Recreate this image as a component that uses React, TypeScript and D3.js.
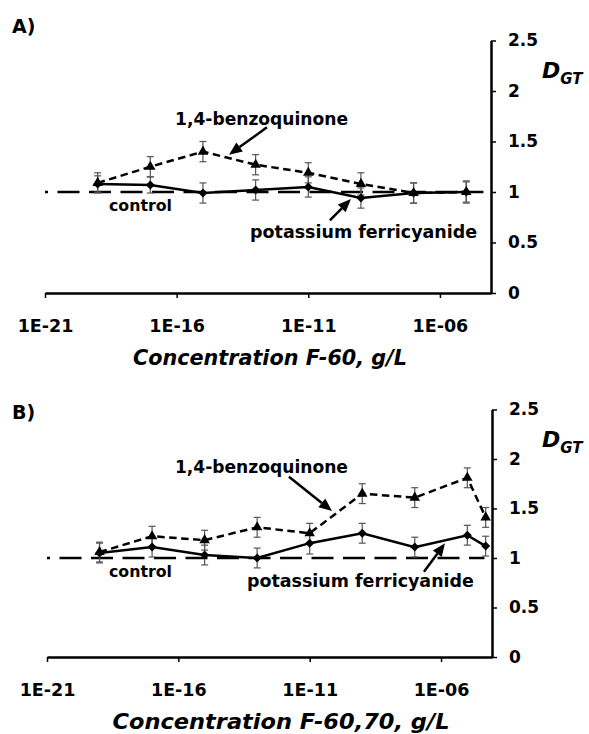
import React, { useEffect, useRef, ReactElement } from 'react'
import * as d3 from 'd3'

// values: concentration (g/L) and D_GT
const concA = [1e-19, 1e-17, 1e-15, 1e-13, 1e-11, 1e-9, 1e-7, 1e-5]
const benzoA = [1.09, 1.25, 1.4, 1.27, 1.19, 1.08, 0.99, 1.0]
const benzoErrA = [0.1, 0.1, 0.1, 0.1, 0.1, 0.11, 0.1, 0.11]
const ferriA = [1.08, 1.07, 0.99, 1.02, 1.05, 0.94, 0.99, 1.0]
const ferriErrA = [0.08, 0.08, 0.1, 0.1, 0.1, 0.1, 0.1, 0.1]

const concB = [1e-19, 1e-17, 1e-15, 1e-13, 1e-11, 1e-9, 1e-7, 1e-5, 5e-5]
const benzoB = [1.06, 1.22, 1.18, 1.31, 1.25, 1.65, 1.61, 1.81, 1.41]
const benzoErrB = [0.1, 0.1, 0.1, 0.1, 0.1, 0.1, 0.1, 0.1, 0.1]
const ferriB = [1.05, 1.11, 1.03, 1.0, 1.15, 1.25, 1.11, 1.23, 1.12]
const ferriErrB = [0.1, 0.1, 0.1, 0.1, 0.11, 0.1, 0.1, 0.1, 0.1]

const xTickValues = [1e-21, 1e-16, 1e-11, 1e-6]
const xTickLabels = ['1E-21', '1E-16', '1E-11', '1E-06']
const yTickValues = [0, 0.5, 1, 1.5, 2, 2.5]
const xDomain = [1e-21, Math.pow(10, -4.06)]
const yDomain = [0, 2.5]
const controlLevel = 1
const controlSpan = [1e-21, 4.5e-5]

const FONT = "'DejaVu Sans', sans-serif"

type Pt = [number, number] // [log10 concentration, D_GT]

interface IPanel {
  letter: string
  letterY: number
  title: string
  titleWidth: number
  titleX: number
  conc: number[]
  benzo: number[]
  benzoErr: number[]
  ferri: number[]
  ferriErr: number[]
  xRange: [number, number]
  yRange: [number, number]
  benzoText: Pt
  benzoArrow: [Pt, Pt]
  controlText: Pt
  ferriText: Pt
  ferriArrow: [Pt, Pt]
}

const panels: IPanel[] = [
  {
    letter: 'A)',
    letterY: 33,
    title: 'Concentration F-60, g/L',
    titleWidth: 274,
    titleX: 270,
    conc: concA,
    benzo: benzoA,
    benzoErr: benzoErrA,
    ferri: ferriA,
    ferriErr: ferriErrA,
    xRange: [45, 491],
    yRange: [293, 40.5],
    benzoText: [-16.06, 1.66],
    benzoArrow: [[-12.57, 1.64], [-14.01, 1.37]],
    controlText: [-18.57, 0.81],
    ferriText: [-13.21, 0.545],
    ferriArrow: [[-10.18, 0.72], [-9.38, 0.93]]
  },
  {
    letter: 'B)',
    letterY: 419,
    title: 'Concentration F-60,70, g/L',
    titleWidth: 337,
    titleX: 281,
    conc: concB,
    benzo: benzoB,
    benzoErr: benzoErrB,
    ferri: ferriB,
    ferriErr: ferriErrB,
    xRange: [47, 492],
    yRange: [657, 409.5],
    benzoText: [-16.13, 1.86],
    benzoArrow: [[-11.79, 1.82], [-10.15, 1.475]],
    controlText: [-18.64, 0.81],
    ferriText: [-13.39, 0.71],
    ferriArrow: [[-6.65, 0.86], [-5.85, 1.15]]
  }
]

const drawPanel = (svg: d3.Selection<SVGSVGElement, unknown, null, undefined>, p: IPanel) => {
  const x = d3.scaleLog().domain(xDomain).range(p.xRange)
  const y = d3.scaleLinear().domain(yDomain).range(p.yRange)
  const px = (pt: Pt) => [x(Math.pow(10, pt[0])), y(pt[1])]
  const g = svg.append('g')

  // axes
  const xAxis = d3.axisBottom(x)
    .tickValues(xTickValues)
    .tickFormat((d, i) => xTickLabels[i])
    .tickSize(5)
    .tickSizeOuter(0)
  const xg = g.append('g').attr('transform', `translate(0,${y(0)})`).call(xAxis)
  xg.select('.domain').attr('stroke-width', 2.5)
  xg.selectAll('.tick line').attr('stroke-width', 1.5)
  xg.selectAll('.tick text')
    .attr('y', 39)
    .attr('dy', 0)
    .attr('font-family', FONT)
    .attr('font-weight', 'bold')
    .attr('font-size', 17.5)
    .attr('fill', '#000')

  const yAxis = d3.axisRight(y)
    .tickValues(yTickValues)
    .tickFormat(d => String(d))
    .tickSize(5)
    .tickSizeOuter(0)
    .tickPadding(12)
  const yg = g.append('g').attr('transform', `translate(${p.xRange[1]},0)`).call(yAxis)
  yg.select('.domain').attr('stroke-width', 2.5)
  yg.selectAll('.tick line').attr('stroke-width', 1.5)
  yg.selectAll('.tick text')
    .attr('font-family', FONT)
    .attr('font-weight', 'bold')
    .attr('font-size', 17)
    .attr('fill', '#000')

  // D_GT label
  const dgt = g.append('text')
    .attr('x', 542)
    .attr('y', y(2.5) + 37)
    .attr('font-family', FONT)
    .attr('font-weight', 'bold')
    .attr('font-style', 'italic')
    .attr('font-size', 22)
  dgt.append('tspan').text('D')
  dgt.append('tspan').attr('font-size', 15).attr('dy', 6).text('GT')

  // panel letter
  g.append('text')
    .attr('x', 12)
    .attr('y', p.letterY)
    .attr('font-family', FONT)
    .attr('font-weight', 'bold')
    .attr('font-size', 19)
    .text(p.letter)

  // x title
  g.append('text')
    .attr('x', p.titleX)
    .attr('y', y(0) + 72)
    .attr('text-anchor', 'middle')
    .attr('font-family', FONT)
    .attr('font-weight', 'bold')
    .attr('font-style', 'italic')
    .attr('font-size', 22)
    .attr('textLength', p.titleWidth)
    .attr('lengthAdjust', 'spacingAndGlyphs')
    .text(p.title)

  // control line
  const ctrl = d3.line<number>().x(d => x(d)).y(() => y(controlLevel))
  g.append('path')
    .attr('d', ctrl(controlSpan))
    .attr('fill', 'none')
    .attr('stroke', '#000')
    .attr('stroke-width', 2.5)
    .attr('stroke-dasharray', '22,9.5')
    .attr('stroke-dashoffset', 19)

  // error bars
  const errBars = (vals: number[], errs: number[]) => {
    const eg = g.append('g').attr('stroke', '#555').attr('stroke-width', 1.2)
    vals.forEach((v, i) => {
      const cx = x(p.conc[i])
      eg.append('line').attr('x1', cx).attr('x2', cx).attr('y1', y(v - errs[i])).attr('y2', y(v + errs[i]))
      eg.append('line').attr('x1', cx - 3.5).attr('x2', cx + 3.5).attr('y1', y(v - errs[i])).attr('y2', y(v - errs[i]))
      eg.append('line').attr('x1', cx - 3.5).attr('x2', cx + 3.5).attr('y1', y(v + errs[i])).attr('y2', y(v + errs[i]))
    })
  }
  errBars(p.benzo, p.benzoErr)
  errBars(p.ferri, p.ferriErr)

  const line = d3.line<number>().x((d, i) => x(p.conc[i])).y(d => y(d))
  g.append('path')
    .attr('d', line(p.benzo))
    .attr('fill', 'none')
    .attr('stroke', '#000')
    .attr('stroke-width', 2.5)
    .attr('stroke-dasharray', '7.5,4.5')
  g.append('path')
    .attr('d', line(p.ferri))
    .attr('fill', 'none')
    .attr('stroke', '#000')
    .attr('stroke-width', 2.5)

  // markers
  const tri = d3.symbol().type(d3.symbolTriangle).size(48)
  g.append('g').selectAll('path')
    .data(p.benzo)
    .join('path')
    .attr('d', tri)
    .attr('transform', (d, i) => `translate(${x(p.conc[i])},${y(d)})`)
    .attr('fill', '#000')
  g.append('g').selectAll('path')
    .data(p.ferri)
    .join('path')
    .attr('d', 'M0,-4.5L4.5,0L0,4.5L-4.5,0Z')
    .attr('transform', (d, i) => `translate(${x(p.conc[i])},${y(d)})`)
    .attr('fill', '#000')

  // annotations
  const note = (pt: Pt, txt: string, width: number, size: number) => {
    const [tx, ty] = px(pt)
    g.append('text')
      .attr('x', tx)
      .attr('y', ty)
      .attr('font-family', FONT)
      .attr('font-weight', 'bold')
      .attr('font-size', size)
      .attr('textLength', width)
      .attr('lengthAdjust', 'spacingAndGlyphs')
      .text(txt)
  }
  note(p.benzoText, '1,4-benzoquinone', 173, 17)
  note(p.controlText, 'control', 63, 16)
  note(p.ferriText, 'potassium ferricyanide', 227, 17)

  const arrow = (a: [Pt, Pt]) => {
    const [x1, y1] = px(a[0])
    const [x2, y2] = px(a[1])
    const ang = Math.atan2(y2 - y1, x2 - x1)
    const hl = 13
    const hw = 5.5
    const bx = x2 - hl * Math.cos(ang)
    const by = y2 - hl * Math.sin(ang)
    g.append('line')
      .attr('x1', x1).attr('y1', y1)
      .attr('x2', bx).attr('y2', by)
      .attr('stroke', '#000')
      .attr('stroke-width', 2.5)
    g.append('path')
      .attr('d', `M${x2},${y2}L${bx + hw * Math.sin(ang)},${by - hw * Math.cos(ang)}L${bx - hw * Math.sin(ang)},${by + hw * Math.cos(ang)}Z`)
      .attr('fill', '#000')
  }
  arrow(p.benzoArrow)
  arrow(p.ferriArrow)
}

const App = (): ReactElement => {
  const ref = useRef<SVGSVGElement>(null)

  useEffect(() => {
    const svg = d3.select(ref.current!)
    svg.selectAll('*').remove()
    panels.forEach(p => drawPanel(svg, p))
  }, [])

  return (
    <svg ref={ref} width={589} height={734} style={{ position: 'absolute', left: 0, top: 0, background: '#fff' }} />
  )
}

export default App
